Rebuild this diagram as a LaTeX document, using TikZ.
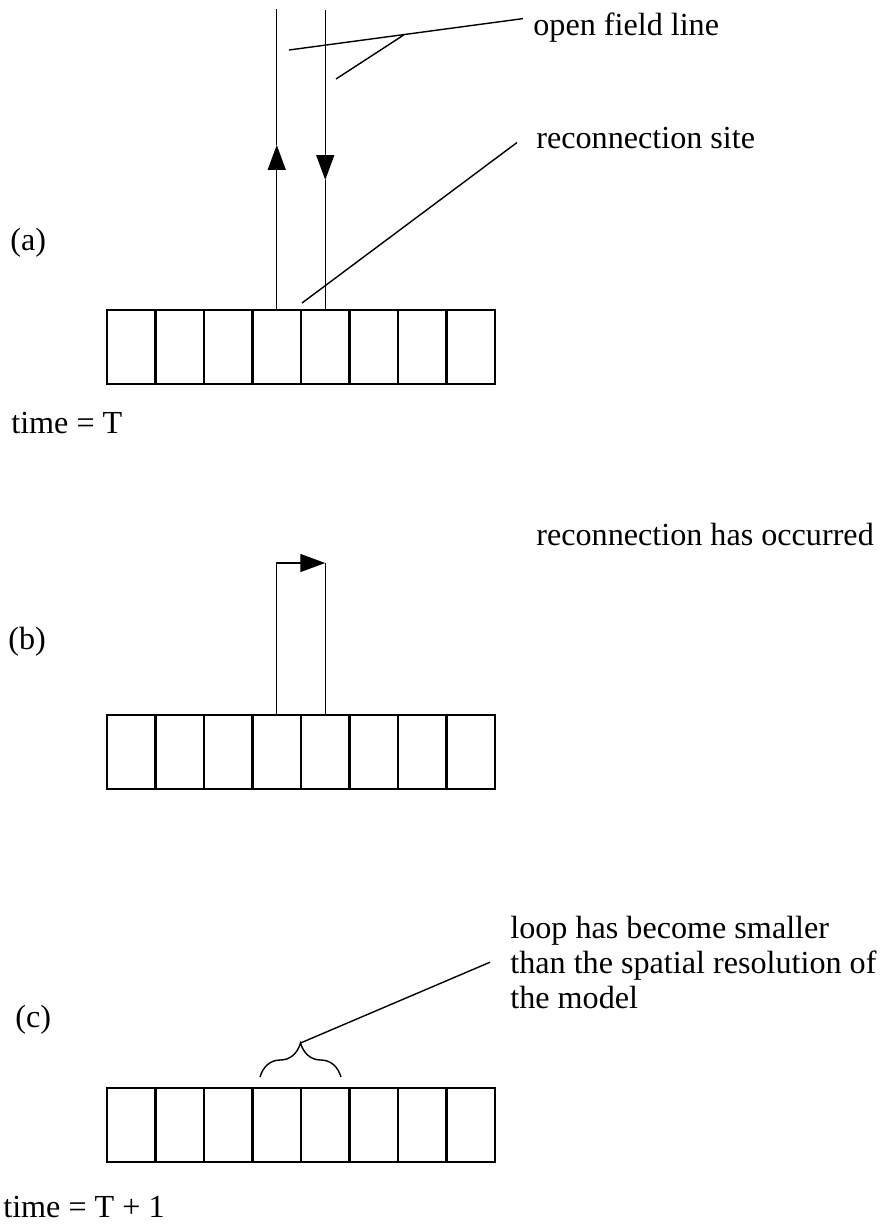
\documentclass[tikz,border=0pt]{standalone}
\usepackage{fontspec}
\setmainfont{Liberation Serif}
\usetikzlibrary{arrows.meta,decorations.pathreplacing}

% row of eight model cells, #1 = name, #2 = top edge
\newcommand{\cellrow}[2]{%
 \draw[cellbox] (107,#2) rectangle (495,#2+74);
 \foreach \i in {1,...,7}
  \draw[cellbox] (107+48.5*\i,#2) -- (107+48.5*\i,#2+74);
 \foreach \i in {1,...,8}
  \coordinate (#1\i) at (82.75+48.5*\i,#2);
}

\begin{document}
\begin{tikzpicture}[x=0.02cm,y=-0.02cm,
  cellbox/.style={line width=1.2pt},
  fieldline/.style={line width=0.8pt},
  leaderline/.style={line width=0.8pt},
  fieldarrow/.style={-{Triangle[length=0.5cm,width=0.36cm]}},
  txt/.style={anchor=base west,inner sep=0pt,font=\fontsize{18.3}{19.8}\selectfont}]
 \useasboundingbox (0,0) rectangle (885,1227);

 % (a) open field lines
 \cellrow{a}{310}
 \draw[fieldline,fieldarrow] (a4) -- (a4 |- 0,145);
 \draw[fieldline] (a4 |- 0,145) -- (a4 |- 0,9);
 \draw[fieldline,fieldarrow] (a5 |- 0,10) -- (a5 |- 0,180);
 \draw[fieldline] (a5 |- 0,180) -- (a5);
 \node[txt] (lblA) at (10,250) {(a)};
 \node[txt] (timeA) at (11,433) {time = T};
 \node[txt] (open) at (533,35) {open field line};
 \node[txt] (site) at (536,148) {reconnection site};
 \coordinate (openFoot) at (289,50);
 \coordinate (openJoin) at (404,34.8);
 \coordinate (openFoot2) at (336,79);
 \coordinate (rsite) at (302,303);
 \draw[leaderline] (openFoot) -- ([xshift=-0.2cm,yshift=0.17cm]open.west);
 \draw[leaderline] (openJoin) -- (openFoot2);
 \draw[leaderline] (rsite) -- ([xshift=-0.38cm,yshift=-0.1cm]site.west);

 % (b) closed loop
 \cellrow{b}{715}
 \draw[fieldline,fieldarrow] (b4) -- (b4 |- 0,563) -- (b5 |- 0,563);
 \draw[fieldline] (b5 |- 0,563) -- (b5);
 \node[txt] (lblB) at (8,649) {(b)};
 \node[txt] (occurred) at (536,545) {reconnection has occurred};

 % (c) loop gone
 \cellrow{c}{1088}
 \node[txt] (lblC) at (15,1027) {(c)};
 \node[txt] (timeC) at (3,1217) {time = T + 1};
 \node[txt,align=left] (loop) at (510,1008)
  {loop has become smaller\\than the spatial resolution of\\the model};
 \coordinate (brL) at (260,1077);
 \coordinate (brR) at (341,1077);
 \coordinate (brTip) at (300.5,1043);
 \draw[leaderline,decorate,decoration={brace,amplitude=0.68cm}] (brL) -- (brR);
 \draw[leaderline] (brTip) -- ([xshift=-0.4cm]loop.west);
\end{tikzpicture}
\end{document}
